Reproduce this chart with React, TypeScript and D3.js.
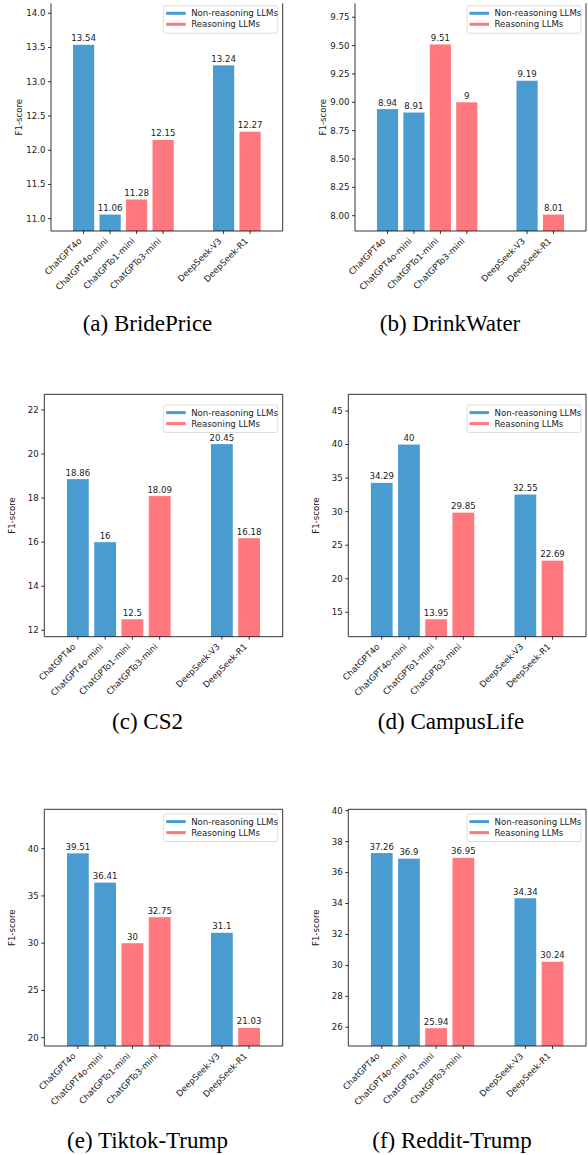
import React from "react";
import * as d3 from "d3";

const models = ["ChatGPT4o", "ChatGPT4o-mini", "ChatGPTo1-mini", "ChatGPTo3-mini", "DeepSeek-V3", "DeepSeek-R1"];
const isReasoning = [false, false, true, true, false, true];
const modelPositions = [0, 1, 2, 3, 5.28, 6.28];
const xDomain: [number, number] = [-1.23, 7.51];

const bridePrice = [13.54, 11.06, 11.28, 12.15, 13.24, 12.27];
const drinkWater = [8.94, 8.91, 9.51, 9, 9.19, 8.01];
const cs2 = [18.86, 16, 12.5, 18.09, 20.45, 16.18];
const campusLife = [34.29, 40, 13.95, 29.85, 32.55, 22.69];
const tiktokTrump = [39.51, 36.41, 30, 32.75, 31.1, 21.03];
const redditTrump = [37.26, 36.9, 25.94, 36.95, 34.34, 30.24];

const brideTicks = [11.0, 11.5, 12.0, 12.5, 13.0, 13.5, 14.0];
const drinkTicks = [8.0, 8.25, 8.5, 8.75, 9.0, 9.25, 9.5, 9.75];
const cs2Ticks = [12, 14, 16, 18, 20, 22];
const campusTicks = [15, 20, 25, 30, 35, 40, 45];
const tiktokTicks = [20, 25, 30, 35, 40];
const redditTicks = [26, 28, 30, 32, 34, 36, 38, 40];

const legendLabels = ["Non-reasoning LLMs", "Reasoning LLMs"];
const captions = ["(a) BridePrice", "(b) DrinkWater", "(c) CS2", "(d) CampusLife", "(e) Tiktok-Trump", "(f) Reddit-Trump"];

const BLUE = "#4a9bd0";
const PINK = "#ff787e";
const SANS = "'DejaVu Sans', sans-serif";
const SERIF = "'Liberation Serif', 'Times New Roman', Times, serif";
const TXT = "#1a1a1a";

type Panel = {
  values: number[];
  ticks: number[];
  yDomain: [number, number];
  fmt: string;
  left: number;
  right: number;
  top: number;
  bottom: number;
  topSpine: boolean;
  legendTop: number;
  capX: number;
  capY: number;
  caption: string;
};

const panels: Panel[] = [
  { values: bridePrice, ticks: brideTicks, yDomain: [10.82, 14.146], fmt: ".1f", left: 51, right: 282.7, top: 3.3, bottom: 231, topSpine: false, legendTop: 5.7, capX: 147.5, capY: 330.5, caption: captions[0] },
  { values: drinkWater, ticks: drinkTicks, yDomain: [7.865, 9.873], fmt: ".2f", left: 355, right: 586, top: 3.3, bottom: 231, topSpine: false, legendTop: 5.7, capX: 450, capY: 330.5, caption: captions[1] },
  { values: cs2, ticks: cs2Ticks, yDomain: [11.71, 22.71], fmt: "d", left: 44.3, right: 282.7, top: 394.3, bottom: 636.7, topSpine: true, legendTop: 405, capX: 147.5, capY: 729, caption: captions[2] },
  { values: campusLife, ticks: campusTicks, yDomain: [11.36, 47.49], fmt: "d", left: 348.3, right: 586, top: 394.3, bottom: 636.7, topSpine: true, legendTop: 405, capX: 451, capY: 729, caption: captions[3] },
  { values: tiktokTrump, ticks: tiktokTicks, yDomain: [19.12, 44.17], fmt: "d", left: 44.3, right: 282.7, top: 809.3, bottom: 1046, topSpine: true, legendTop: 814, capX: 147.5, capY: 1148, caption: captions[4] },
  { values: redditTrump, ticks: redditTicks, yDomain: [24.79, 40.09], fmt: "d", left: 348.3, right: 586, top: 809.3, bottom: 1046, topSpine: true, legendTop: 814, capX: 452, capY: 1148, caption: captions[5] },
];

function ChartPanel({ p }: { p: Panel }) {
  const x = d3.scaleLinear().domain(xDomain).range([p.left, p.right]);
  const y = d3.scaleLinear().domain(p.yDomain).range([p.bottom, p.top]);
  const unit = x(1) - x(0);
  const bw = 0.8 * unit;
  const fmt = d3.format(p.fmt);
  const fs = 8.6;
  const legW = 114;
  const legH = 27.5;
  const legX = p.right - 5 - legW;
  const legY = p.legendTop;
  const yMid = (p.top + p.bottom) / 2;
  const yLabelX = p.left - 32;
  return (
    <g>
      {p.values.map((v, i) => (
        <rect
          key={"b" + i}
          x={x(modelPositions[i]) - bw / 2}
          y={y(v)}
          width={bw}
          height={p.bottom - y(v)}
          fill={isReasoning[i] ? PINK : BLUE}
        />
      ))}
      {p.values.map((v, i) => (
        <text
          key={"v" + i}
          x={x(modelPositions[i])}
          y={y(v) - 3.5}
          textAnchor="middle"
          style={{ fontFamily: SANS, fontSize: fs }}
          fill={TXT}
        >
          {String(v)}
        </text>
      ))}
      <line x1={p.left} x2={p.left} y1={p.top} y2={p.bottom} stroke="#000" strokeWidth={0.8} />
      <line x1={p.right} x2={p.right} y1={p.top} y2={p.bottom} stroke="#000" strokeWidth={0.8} />
      <line x1={p.left} x2={p.right} y1={p.bottom} y2={p.bottom} stroke="#000" strokeWidth={0.8} />
      {p.topSpine && <line x1={p.left} x2={p.right} y1={p.top} y2={p.top} stroke="#000" strokeWidth={0.8} />}
      {p.ticks.map((t, i) => (
        <g key={"yt" + i}>
          <line x1={p.left - 3} x2={p.left} y1={y(t)} y2={y(t)} stroke="#000" strokeWidth={0.8} />
          <text
            x={p.left - 5.5}
            y={y(t)}
            dy="0.34em"
            textAnchor="end"
            style={{ fontFamily: SANS, fontSize: fs }}
            fill={TXT}
          >
            {fmt(t)}
          </text>
        </g>
      ))}
      {models.map((m, i) => {
        const tx = x(modelPositions[i]);
        const lx = tx - 1.5;
        const ly = p.bottom + 10.5;
        return (
          <g key={"xt" + i}>
            <line x1={tx} x2={tx} y1={p.bottom} y2={p.bottom + 3} stroke="#000" strokeWidth={0.8} />
            <text
              x={lx}
              y={ly}
              textAnchor="end"
              transform={`rotate(-45, ${lx}, ${ly})`}
              style={{ fontFamily: SANS, fontSize: fs }}
              fill={TXT}
            >
              {m}
            </text>
          </g>
        );
      })}
      <text
        x={yLabelX}
        y={yMid}
        dy="0.35em"
        textAnchor="middle"
        transform={`rotate(-90, ${yLabelX}, ${yMid})`}
        style={{ fontFamily: SANS, fontSize: fs }}
        fill={TXT}
      >
        F1-score
      </text>
      <rect x={legX} y={legY} width={legW} height={legH} rx={2} fill="#fff" fillOpacity={0.8} stroke="#d4d4d4" strokeWidth={0.8} />
      {legendLabels.map((l, i) => {
        const ly = legY + 7.6 + i * 11;
        return (
          <g key={"lg" + i}>
            <line x1={legX + 2.5} x2={legX + 22} y1={ly} y2={ly} stroke={i === 0 ? BLUE : PINK} strokeWidth={3} />
            <text x={legX + 27.5} y={ly} dy="0.34em" style={{ fontFamily: SANS, fontSize: fs }} fill={TXT}>
              {l}
            </text>
          </g>
        );
      })}
      <text x={p.capX} y={p.capY} textAnchor="middle" style={{ fontFamily: SERIF, fontSize: 23 }} fill="#000">
        {p.caption}
      </text>
    </g>
  );
}

export default function App() {
  return (
    <svg
      width={588}
      height={1155}
      viewBox="0 0 588 1155"
      style={{ position: "absolute", left: 0, top: 0, background: "#fff" }}
    >
      <rect x={0} y={0} width={588} height={1155} fill="#fff" />
      {panels.map((p, i) => (
        <ChartPanel key={i} p={p} />
      ))}
    </svg>
  );
}
